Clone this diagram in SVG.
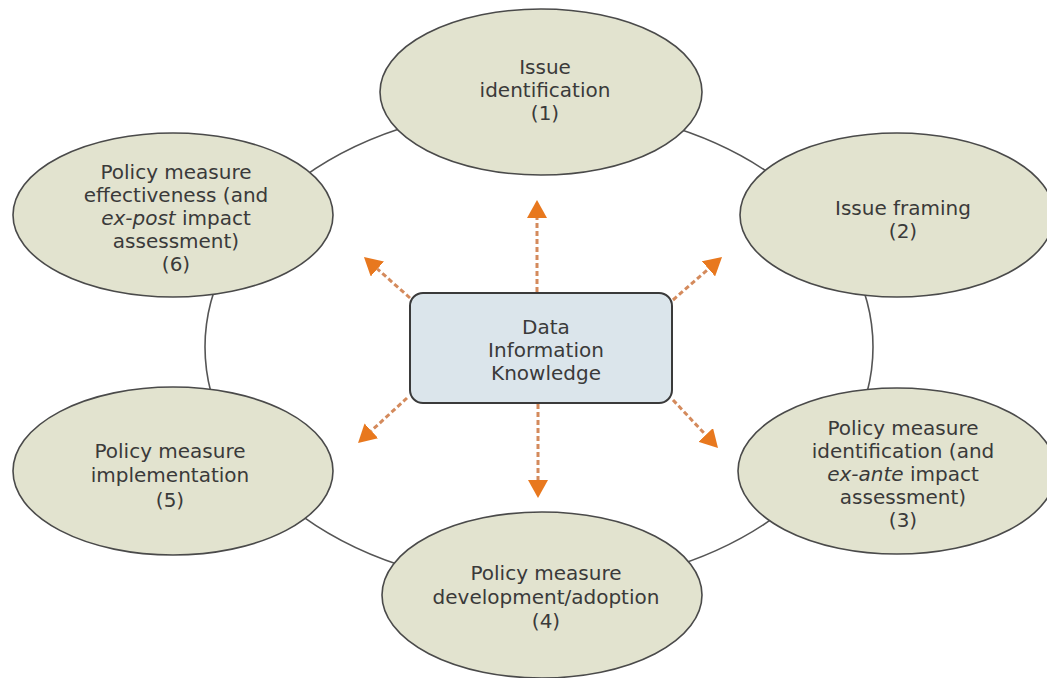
<svg xmlns="http://www.w3.org/2000/svg" width="1047" height="678" viewBox="0 0 1047 678">
<style>
.bg{fill:#ffffff}
.ring{fill:none;stroke:#555555;stroke-width:1.6}
.node{fill:#e2e3cf;stroke:#4a4a4a;stroke-width:1.6}
.box{fill:#dbe5eb;stroke:#3a3a3a;stroke-width:2}
.t{font-family:"DejaVu Sans",Verdana,sans-serif;font-size:20px;fill:#3a3a3a;text-anchor:middle}
.i{font-style:italic}
.arr{fill:none;stroke:#d48a5c;stroke-width:3;stroke-dasharray:5 3;marker-end:url(#ah)}
</style>
<defs>
<marker id="ah" markerUnits="userSpaceOnUse" markerWidth="18" markerHeight="20" refX="0" refY="10" orient="auto">
<path d="M0,0 L18,10 L0,20 z" fill="#e8781e"/>
</marker>
</defs>
<rect class="bg" x="0" y="0" width="1047" height="678"/>
<g id="connectors">
<ellipse class="ring" cx="539" cy="347" rx="334" ry="240"/>
<line class="arr" x1="537" y1="292" x2="537" y2="218"/>
<line class="arr" x1="538" y1="404" x2="538" y2="480"/>
<line class="arr" x1="410" y1="298" x2="377.4" y2="269"/>
<line class="arr" x1="673" y1="300" x2="708.5" y2="268.9"/>
<line class="arr" x1="407" y1="398" x2="371.3" y2="430.8"/>
<line class="arr" x1="673" y1="400" x2="705.7" y2="434.9"/>
</g>
<g id="n1">
<ellipse class="node" cx="541" cy="92" rx="161" ry="83"/>
<text class="t" x="545" y="74">Issue</text>
<text class="t" x="545" y="97">identification</text>
<text class="t" x="545" y="120">(1)</text>
</g>
<g id="n2">
<ellipse class="node" cx="897" cy="215" rx="157" ry="82"/>
<text class="t" x="903" y="215">Issue framing</text>
<text class="t" x="903" y="238">(2)</text>
</g>
<g id="n3">
<ellipse class="node" cx="897" cy="471" rx="159" ry="83"/>
<text class="t" x="903" y="435">Policy measure</text>
<text class="t" x="903" y="458">identification (and</text>
<text class="t" x="903" y="481"><tspan class="i">ex-ante</tspan> impact</text>
<text class="t" x="903" y="504">assessment)</text>
<text class="t" x="903" y="527">(3)</text>
</g>
<g id="n4">
<ellipse class="node" cx="542" cy="595" rx="160" ry="83"/>
<text class="t" x="546" y="580">Policy measure</text>
<text class="t" x="546" y="604">development/adoption</text>
<text class="t" x="546" y="628">(4)</text>
</g>
<g id="n5">
<ellipse class="node" cx="173" cy="471" rx="160" ry="84"/>
<text class="t" x="170" y="458">Policy measure</text>
<text class="t" x="170" y="482">implementation</text>
<text class="t" x="170" y="507">(5)</text>
</g>
<g id="n6">
<ellipse class="node" cx="173" cy="215" rx="160" ry="82"/>
<text class="t" x="176" y="179">Policy measure</text>
<text class="t" x="176" y="202">effectiveness (and</text>
<text class="t" x="176" y="225"><tspan class="i">ex-post</tspan> impact</text>
<text class="t" x="176" y="248">assessment)</text>
<text class="t" x="176" y="271">(6)</text>
</g>
<g id="center">
<rect class="box" x="410" y="293" width="262" height="110" rx="13" ry="13"/>
<text class="t" x="546" y="334">Data</text>
<text class="t" x="546" y="357">Information</text>
<text class="t" x="546" y="380">Knowledge</text>
</g>
</svg>
